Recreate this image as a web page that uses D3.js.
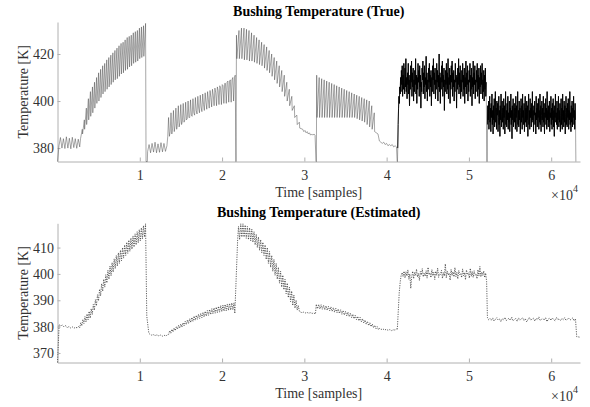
<!doctype html>
<html lang="en">
<head>
  <meta charset="utf-8">
  <title>Bushing Temperature</title>
  <script src="https://cdn.jsdelivr.net/npm/d3@7"></script>
  <style>
    body { margin: 0; background: #fff; }
    svg { display: block; font-family: "Liberation Serif", "Times New Roman", serif; }
  </style>
</head>
<body>
  <div id="chart"></div>
  <script>
    const AXIS_GREY = "#b0b0b0";
    const TEXT_GREY = "#333333";

    const w = 590;
    const h = 407;

    // x ticks in samples (shown as x 10^4)
    const xTicks = [10000, 20000, 30000, 40000, 50000, 60000];
    const xMax = 63500;

    // ---- True bushing temperature [K] ----
    const trueFlat1 = [374.3, 381, 384.5, 380, 384, 379.8, 384.8, 380, 384.2, 379.7, 384.6, 380.2, 384, 379.9, 383.8, 380.5];
    const trueRamp1Peaks = [388, 392, 397, 401, 404, 406, 408, 410, 412, 413.5, 415, 416, 417.5, 418.5, 419.5, 420.5,
      421.5, 422.5, 423.5, 424.5, 425, 426, 427, 427.5, 428, 429, 429.5, 430, 431, 431.5, 432, 433];
    const trueRamp1Dips = [384, 386, 388, 390, 392, 393.5, 395, 397, 399, 400, 401.5, 403, 404, 405, 406, 407,
      408, 409, 409.5, 410.5, 411.5, 412, 413, 413.5, 414.5, 415, 416, 416.5, 417, 418, 418.5, 419];
    const trueFlat2 = [378.5, 381.5, 378, 382, 378.3, 382.5, 378, 381.8, 378.2, 382.3, 378.4, 382, 378.6, 381];
    const trueRamp2Dips = [385, 387, 388.5, 389.5, 390.5, 391, 391.5, 392, 392.5, 393, 393.5, 394, 394.5, 395,
      395.5, 396, 396.5, 397, 397.5, 398, 398, 398.5, 398.5, 399, 399, 399.5, 399.5, 400];
    const trueRamp2Peaks = [393, 395, 396, 397, 398, 398.5, 399, 399.5, 400, 400.5, 401, 401.5, 402, 402.5,
      403, 403.5, 404, 404.5, 405, 405.5, 406, 406.5, 407, 407.5, 408, 408.5, 409, 410];
    const trueRamp2Trend = [385, 386, 387, 388, 389, 390, 391, 392, 393, 394, 395, 396, 397, 397.5,
      398.5, 399.5, 400.5, 401.5, 402.5, 403.5, 404.5, 405.5, 406.5, 407.5, 408.5, 409, 410, 411];
    const trueRamp3Peaks = [428, 430, 431, 431, 430.5, 430, 429, 428, 427, 426, 425, 424, 423, 421.5, 420,
      418.5, 417, 415, 413, 411, 408, 405, 402, 398, 394, 391];
    const trueRamp3Dips = [418, 418, 418, 417.5, 417.5, 417, 417, 416.5, 416, 415.5, 415, 414, 413, 412, 410.5,
      409, 407.5, 406, 404, 402, 400, 398, 396, 393, 390, 388.5];
    const trueTail3 = [388, 387, 387.5, 386.5, 387, 386, 386.5, 385.5, 386, 385.5, 386, 385.5];
    const trueRamp4Peaks = [411, 410, 409.5, 409, 408.5, 408, 407.5, 407, 406.5, 406, 405.5, 405, 404.5, 404,
      403.5, 403, 402.5, 402, 401.5, 401, 400.5, 400, 398, 395];
    const trueRamp4Dips = [393, 393, 393, 393, 393, 393, 393, 393, 393, 393, 393, 393, 393, 393, 393, 393,
      392.5, 392, 391.5, 391, 390, 389, 388, 387];
    const trueTail4 = [386, 383, 382.5, 382, 382.5, 381.5, 382, 381, 381.5, 381, 381.5, 380.5, 381, 380.5];
    const trueNoise5 = [
      380, 390, 397, 402, 399, 406, 403, 410, 404, 413, 407, 415, 402, 411, 405, 416, 409, 403, 414, 406,
      418, 404, 410, 401, 412, 407, 416, 403, 409, 398, 411, 405, 415, 408, 417, 402, 412, 406, 414, 400,
      409, 404, 413, 407, 418, 403, 411, 399, 410, 405, 416, 408, 413, 402, 415, 406, 411, 397, 408, 404,
      414, 409, 417, 403, 412, 406, 415, 401, 410, 407, 419, 404, 412, 400, 409, 405, 414, 408, 416, 402,
      411, 406, 413, 398, 410, 404, 415, 409, 418, 403, 412, 407, 414, 401, 409, 405, 416, 408, 413, 400,
      411, 406, 420, 404, 412, 399, 410, 405, 415, 408, 417, 402, 411, 406, 414, 396, 409, 404, 413, 407,
      416, 403, 412, 405, 418, 401, 410, 407, 414, 399, 411, 405, 415, 408, 417, 402, 412, 406, 413, 400,
      409, 404, 416, 408, 411, 397, 410, 405, 414, 407, 418, 403, 412, 406, 415, 401, 409, 404, 413, 408,
      416, 402, 411, 405, 414, 399, 410, 406, 417, 403, 412, 407, 415, 400, 409, 404, 413, 408, 416, 402,
      411, 405, 414, 398, 410, 406, 417, 403, 412, 407, 415, 401, 409, 404, 413, 408, 416, 402, 411, 405,
      414, 399, 410, 406, 415, 403, 412, 407, 416, 401, 409, 404, 413, 400, 411, 405, 414, 402, 408];
    const trueNoise6 = [
      390, 398, 392, 400, 388, 396, 402, 391, 397, 387, 399, 393, 403, 390, 396, 386, 398, 392, 401, 389,
      395, 404, 391, 397, 388, 400, 394, 399, 387, 393, 402, 390, 396, 385, 398, 392, 403, 389, 395, 400,
      391, 397, 388, 401, 393, 398, 386, 394, 404, 390, 396, 389, 399, 392, 402, 388, 395, 391, 400, 387,
      397, 393, 403, 390, 396, 384, 398, 392, 401, 389, 395, 399, 391, 397, 388, 402, 393, 398, 387, 394,
      404, 390, 396, 389, 400, 392, 397, 386, 395, 401, 391, 398, 388, 403, 393, 396, 390, 399, 387, 394,
      402, 391, 397, 389, 400, 392, 398, 385, 395, 403, 390, 396, 388, 401, 393, 397, 389, 399, 391, 404,
      392, 396, 387, 398, 394, 400, 390, 395, 386, 402, 392, 397, 389, 399, 393, 401, 388, 396, 391, 403,
      390, 398, 387, 394, 400, 392, 397, 389, 402, 391, 395, 386, 399, 393, 401, 390, 397, 388, 404, 392,
      396, 389, 398, 391, 400, 387, 395, 393, 402, 390, 397, 388, 399, 392, 401, 389, 396, 385, 398, 393,
      403, 391, 395, 390, 400, 388, 397, 392, 402, 389, 396, 391, 399, 387, 394, 401, 390, 397, 388, 403,
      392, 396, 389, 400, 391, 398, 386, 395, 402, 390, 397, 389, 399, 393, 401, 388, 396, 392, 404, 390,
      395, 387, 398, 391, 400, 389, 397, 393, 402, 390, 396, 388, 399, 392];
    const trueFloor = 374.3;

    // ---- Estimated bushing temperature [K] ----
    const estStart = [366.4, 380.8, 380.3, 380.6, 379.9, 380.4, 379.6, 380.1, 379.5, 379.9, 379.4, 379.8, 379.5, 380.2];
    const estRamp1Tops = [381.5, 382.7, 383.8, 384.8, 385.8, 386.8, 388.4, 390.2, 392.1, 394.2, 396.3, 398, 399.7,
      401.4, 403, 404.3, 405.7, 407, 408, 409, 410, 411, 412, 412.8, 413.6, 414.4, 415.2, 416, 416.8, 417.5, 418.3, 419];
    const estRamp1Bottoms = [379.6, 380.3, 381.2, 381.8, 382.6, 383.2, 384.6, 386.2, 387.9, 389.8, 391.7, 393.4, 395,
      396.6, 398, 399.3, 400.7, 402, 403, 404, 405, 406, 407, 407.8, 408.6, 409.4, 410.2, 411, 411.8, 412.5, 413.3, 414];
    const estDrop1 = [384, 377.5];
    const estFlat2 = [377.2, 376.8, 377, 376.6, 376.9, 376.5, 376.8, 376.4, 376.7, 376.5, 377];
    const estRamp2Tops = [378.5, 379, 379.5, 380, 380.5, 381, 381.5, 382, 382.5, 383, 383.5, 384, 384.3, 384.7, 385,
      385.4, 385.8, 386.1, 386.5, 386.8, 387.1, 387.4, 387.7, 388, 388.2, 388.4, 388.6, 388.8, 389, 389];
    const estRamp2Bottoms = [377, 377.5, 378, 378.5, 379, 379.4, 379.8, 380.3, 380.8, 381.2, 381.6, 382, 382.4, 382.8,
      383.1, 383.4, 383.7, 384, 384.3, 384.6, 384.9, 385.1, 385.3, 385.5, 385.7, 385.9, 386, 386.2, 386.3, 386.4];
    const estJump2 = [385, 413.5];
    const estRamp3Tops = [418, 419, 419, 418.5, 418, 417.5, 417, 416, 415, 414, 413, 412, 411, 410, 408.5, 407, 405.5,
      404, 402.5, 401, 399.5, 398, 396.5, 395, 393.5, 392, 390, 388];
    const estRamp3Bottoms = [413, 414, 414, 413.5, 413, 412.5, 412, 411, 410, 409, 408, 407, 405.5, 404, 402.5, 401,
      399.5, 398, 396.5, 395, 394, 392.5, 391, 389.5, 388, 387, 386.3, 385.8];
    const estPlateau3 = [385.6, 385.3, 385.5, 385.2, 385.4, 385.1, 385.3, 385, 385.2, 384.8];
    const estRamp4Tops = [388.5, 388.4, 388.3, 388.1, 387.9, 387.7, 387.5, 387.2, 387, 386.7, 386.4, 386.1, 385.8,
      385.5, 385.1, 384.7, 384.3, 383.9, 383.5, 383, 382.5, 382, 381.5, 381, 380.5, 380];
    const estRamp4Bottoms = [386.8, 386.7, 386.6, 386.4, 386.2, 386, 385.8, 385.5, 385.3, 385, 384.7, 384.4, 384.1,
      383.8, 383.4, 383, 382.6, 382.2, 381.8, 381.4, 380.9, 380.4, 380, 379.6, 379.2, 378.9];
    const estTail4 = [379.4, 378.9, 379.2, 378.7, 379, 378.6, 378.9, 378.5, 378.8, 378.7, 379.3];
    const estNoise5 = [379, 386, 393, 397, 399.5, 400.5, 399, 401, 398.5, 400.8, 399.2, 401.5, 398, 400, 394.5, 399,
      401, 398.2, 400.6, 399.4, 401.8, 398.8, 400.2, 397.5, 400.9, 399.6, 402, 398.9, 400.3, 399.1, 401.2, 398.4,
      402.5, 399.7, 400.4, 398.6, 401.6, 399.3, 400.7, 397.9, 401, 399.5, 402.2, 398.7, 400.1, 399.8, 401.4, 398.3,
      400.5, 399.2, 403.8, 398.5, 401.1, 399.6, 400.3, 397.6, 401.7, 399.4, 400.8, 398.9, 402.4, 399, 400.6, 398.1,
      401.3, 399.7, 400.2, 398.6, 401.9, 399.3, 400.5, 397.8, 401.5, 399.8, 400.4, 398.4, 402.1, 399.1, 400.9, 398.7,
      401.2, 399.5, 400, 398.2, 401.6, 399.2, 402.8, 398.9, 400.7, 399.4, 401.1, 398.6, 400.3, 397.2];
    const estDrop5 = [383.5];
    const estNoise6 = [382.6, 383.1, 382.4, 383.3, 382.1, 382.8, 383.4, 382.5, 382.9, 381.9, 383, 382.6, 383.5, 382.3,
      382.8, 383.2, 382.4, 383.6, 382.2, 382.7, 383.1, 382, 383.3, 382.5, 382.9, 383.4, 382.3, 383, 381.8, 382.7,
      383.5, 382.4, 382.9, 383.2, 382.1, 383.1, 382.6, 383.7, 382.3, 382.8, 383, 382.5, 383.4, 381.9, 382.9, 383.2,
      382.4, 383.3, 382.6, 382.2, 383.5, 382.7, 382.9, 382.3, 383.1, 382.6, 383.4, 382.4, 382.8, 383.2, 382.5, 382.9,
      383.3, 382.2, 383];
    const estEnd = [376.2, 376];

    // spread read values evenly between two sample positions
    function spread(from, to, values) {
      const n = values.length;
      return values.map((v, i) => ({ t: n === 1 ? from : from + i * (to - from) / (n - 1), v }));
    }

    // alternate values of several arrays: a0, b0, a1, b1, ...
    function zip(...arrays) {
      return arrays[0].flatMap((_, i) => arrays.map(a => a[i]));
    }

    // sawtooth cycles: first value at the cycle start, second a fraction later
    function sawtooth(from, to, firsts, seconds, frac) {
      const step = (to - from) / firsts.length;
      return firsts.flatMap((v, i) => [
        { t: from + i * step, v },
        { t: from + (i + frac) * step, v: seconds[i] }
      ]);
    }

    // the two high-load stretches of the true signal are very dense
    const trueDense5 = spread(41350, 52100, trueNoise5);
    const trueDense6 = spread(52250, 62950, trueNoise6);

    const trueData = [].concat(
      spread(0, 2700, trueFlat1),
      sawtooth(2800, 10740, trueRamp1Dips, trueRamp1Peaks, 0.85),
      spread(10760, 10920, [trueFloor, trueFloor]),
      spread(10950, 13300, trueFlat2),
      spread(13400, 21600, zip(trueRamp2Dips, trueRamp2Peaks, trueRamp2Trend)),
      spread(21680, 21700, [trueFloor, trueFloor]),
      sawtooth(21750, 29700, trueRamp3Peaks, trueRamp3Dips, 0.15),
      spread(29800, 31300, trueTail3),
      spread(31420, 31460, [trueFloor, trueFloor]),
      sawtooth(31500, 38800, trueRamp4Peaks, trueRamp4Dips, 0.15),
      spread(38950, 41200, trueTail4),
      spread(41280, 41320, [trueFloor, trueFloor]),
      trueDense5,
      spread(52180, 52220, [trueFloor, trueFloor]),
      trueDense6,
      spread(63000, 63000, [trueFloor])
    );

    const estData = [].concat(
      spread(0, 2600, estStart),
      spread(2700, 10700, zip(estRamp1Bottoms, estRamp1Tops)),
      spread(10850, 11100, estDrop1),
      spread(11200, 13400, estFlat2),
      spread(13500, 21450, zip(estRamp2Bottoms, estRamp2Tops)),
      spread(21550, 21900, estJump2),
      spread(22000, 29400, zip(estRamp3Tops, estRamp3Bottoms)),
      spread(29500, 31350, estPlateau3),
      spread(31450, 39000, zip(estRamp4Tops, estRamp4Bottoms)),
      spread(39100, 41250, estTail4),
      spread(41300, 52150, estNoise5),
      spread(52250, 52250, estDrop5),
      spread(52400, 62950, estNoise6),
      spread(63100, 63500, estEnd)
    );

    const panels = [
      {
        title: "Bushing Temperature (True)",
        data: trueData,
        dense: [trueDense5, trueDense6],
        yDomain: [374.3, 433.6],
        yTicks: [380, 400, 420],
        top: 22, bottom: 161.5,
        dashed: false
      },
      {
        title: "Bushing Temperature (Estimated)",
        data: estData,
        dense: [],
        yDomain: [366.4, 419.2],
        yTicks: [370, 380, 390, 400, 410],
        top: 223.3, bottom: 362.5,
        dashed: true
      }
    ];

    const svg = d3.select("#chart")
      .append("svg")
      .attr("width", w)
      .attr("height", h);

    const xScale = d3.scaleLinear()
      .domain([0, xMax])
      .range([57.5, 580]);

    panels.forEach(p => drawPanel(svg, p));

    function drawPanel(svg, p) {
      const yScale = d3.scaleLinear()
        .domain(p.yDomain)
        .range([p.bottom, p.top]);

      const xAxis = d3.axisBottom(xScale)
        .tickValues(xTicks)
        .tickFormat(d => d / 10000)
        .tickSizeInner(-4)
        .tickSizeOuter(0)
        .tickPadding(9);

      const yAxis = d3.axisLeft(yScale)
        .tickValues(p.yTicks)
        .tickSizeInner(-3)
        .tickSizeOuter(0)
        .tickPadding(3.5);

      addAxis(svg, `translate(0, ${p.bottom})`, xAxis);
      addAxis(svg, `translate(57.5, 0)`, yAxis);

      const line = d3.line()
        .x(d => xScale(d.t))
        .y(d => yScale(d.v));

      const path = svg.append("path")
        .datum(p.data)
        .attr("fill", "none")
        .attr("d", line);

      if (p.dashed) {
        path.attr("stroke", "#3a3a3a")
          .attr("stroke-width", 0.8)
          .attr("stroke-dasharray", "1.2,1.2");
      } else {
        path.attr("stroke", "#3a3a3a")
          .attr("stroke-width", 0.45);
      }

      // heavier ink where the signal is too dense to resolve
      p.dense.forEach(seg => {
        svg.append("path")
          .datum(seg)
          .attr("fill", "none")
          .attr("stroke", "#000")
          .attr("stroke-width", 0.9)
          .attr("d", line);
      });

      // title
      svg.append("text")
        .attr("x", 318.75)
        .attr("y", p.top - 6)
        .attr("text-anchor", "middle")
        .attr("font-weight", "bold")
        .attr("font-size", 14)
        .attr("fill", "#000")
        .text(p.title);

      // x label
      svg.append("text")
        .attr("x", 318.75)
        .attr("y", p.bottom + 35)
        .attr("text-anchor", "middle")
        .attr("font-size", 14)
        .attr("fill", TEXT_GREY)
        .text("Time [samples]");

      // exponent
      const expo = svg.append("text")
        .attr("x", 551)
        .attr("y", p.bottom + 38.5)
        .attr("font-size", 14)
        .attr("fill", TEXT_GREY);
      expo.append("tspan").text("\u00d710");
      expo.append("tspan")
        .attr("dy", -8)
        .attr("font-size", 10)
        .text("4");

      // y label
      const cy = (p.top + p.bottom) / 2;
      svg.append("text")
        .attr("x", 28)
        .attr("y", cy)
        .attr("text-anchor", "middle")
        .attr("font-size", 14)
        .attr("fill", TEXT_GREY)
        .attr("transform", `rotate(-90, 28, ${cy})`)
        .text("Temperature [K]");
    }

    function addAxis(svg, transform, axis) {
      const g = svg.append("g")
        .attr("transform", transform)
        .call(axis);
      g.attr("font-family", null).attr("font-size", 14);
      g.select(".domain").attr("stroke", AXIS_GREY);
      g.selectAll(".tick line").attr("stroke", AXIS_GREY);
      g.selectAll(".tick text").attr("fill", TEXT_GREY);
      return g;
    }
  </script>
</body>
</html>
